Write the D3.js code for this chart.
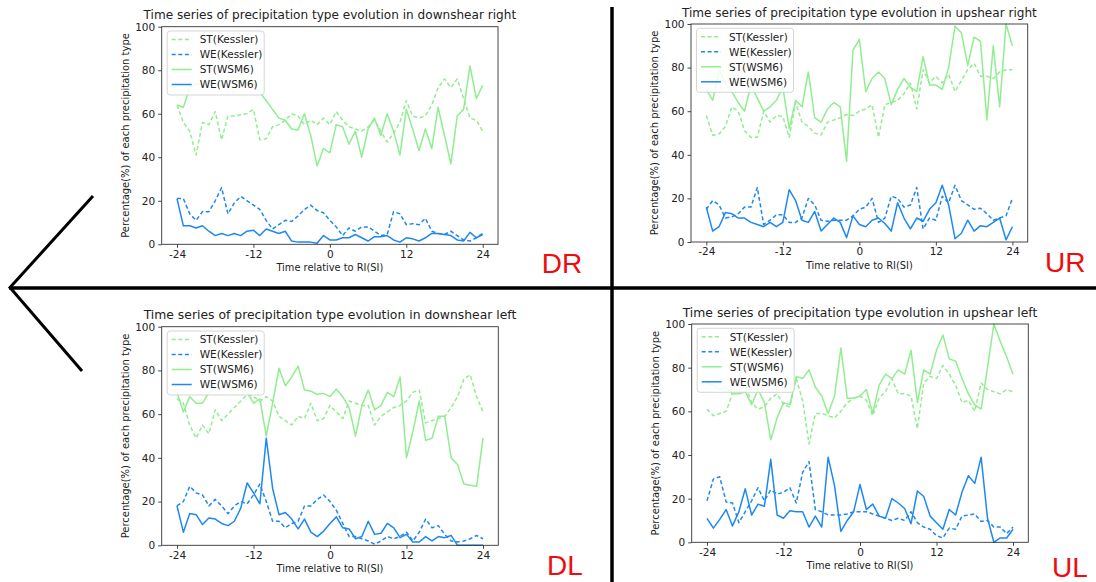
<!DOCTYPE html>
<html>
<head>
<meta charset="utf-8">
<script src="https://cdn.jsdelivr.net/npm/d3@7"></script>
<style>
  body { margin: 0; background: #fff; }
  svg { display: block; font-family: "DejaVu Sans", sans-serif; }
</style>
</head>
<body>
<svg id="fig" width="1096" height="582"></svg>
<script>
// time axis: hours relative to RI onset
const hours = d3.range(-24, 25);
const xTicks = [-24, -12, 0, 12, 24];
const yTicks = [0, 20, 40, 60, 80, 100];
const seriesNames = ['ST(Kessler)', 'WE(Kessler)', 'ST(WSM6)', 'WE(WSM6)'];

// downshear right
const drStKessler = [64,56,52,41,56,55,61,48,59,59,59.5,60,62,48,48.5,54,55,57,60,59,55,57,55,58,55,61,57,54,53,52,54,57,52,47,51,56,66,59,58,59,64,72,76,72,76,67,58,57,52];
const drWeKessler = [21,21,14,11,15,15,20,26,14,19,22,20,18,16,11,7,9,11,10.5,13,16,18,15.5,14.5,11,8,4,7.5,6,8,8,6,4,4.5,15,14,9,9.5,9,12,6,5,4.5,6,4,2,1.5,3,5];
const drStWsm6 = [64,63,72,74,73,75,74,73,76,74,75,76,74,70,66,62,58,57,53,52.5,60,50,36,44,42,55,54,46,52,40,53,58,50,60,52,41,62,53,43,53,44,63,50,37,59,62,82,67,73];
const drWeWsm6 = [21,8.5,8.5,7.5,8.5,6,4,5,4,5,4,6,6.5,4,7,6,5,6,1.5,1,1,1,0.5,4,2,2,3,3,4.5,3,1.5,3.5,3.5,4,2,1,3,2.5,1.5,3,5,5,4.5,4,2,1.5,5.5,3,4.5];

// upshear right
const urStKessler = [58,49,49.5,53,62,60,51,48,48,60,55,58,57.5,48,64,55,53,50,49,55,56,57,58.5,58,60,61,63,48,63,64,65,68,73,61,79,73,76,73,77,69,74,79,82,76,76,75,78,79,79];
const urWeKessler = [15,19,17,11,11.5,13,16,16,25,8,10,12.5,12.5,9,9,11,20,17,10,9.5,10,10,10,12,15,16,20,9,11,21,20,16,17,25,6,11,10,21,18,26,19,17,15,15.5,13,10,11,12,20];
const urStWsm6 = [70,65,79,73,69,64,60,72,66,60,62,65,71,52,65,62,78,57,55,61,64,62,37,88,93,69,75,78,75,63,70,75,71,69,85,72,72,70,80,99,96,81,94,92,56,90,62,100,90];
const urWeWsm6 = [16,5,7,13.5,13,11,11,9,8,7,9,7,9,24,19,10,9,14,5,8,11,9,2,12,8,7,10,11,8.5,5,18,11,6,11,9.5,15,18,26,17,1.5,4,10,5,7.5,7,9,11,1,7];

// downshear left
const dlStKessler = [67,65,55,49,55,51,62,57,60,63,66,69,68,66,68,66,59,57,55,59,58,65,57,58,64,61,58,66,65,64,64,55,59,61,63,64,66,70,71,56,57,58,59,63,68,76,78,68,61];
const dlWeKessler = [18,20,27,24,23,18,21,18,14.5,18,20,19,23,28,20,11,11,8,10,11,18,18,21,23,20,16,10,4,4,3,2,0.5,2,4,3,4,6,2,6,12,8,9,5,2,1.5,2,3,4.5,3];
const dlStWsm6 = [70,61,68,65,65,70,72,73,72,71,72,70,65,67,50,65,81,73,77,82,71,70.5,69,69.5,68,71.5,68,63,50,64,71,62,64,70,68,77,40,52,66,48,49,59,59,40,37,28,27.5,27,49];
const dlWeWsm6 = [18,6,14.5,14,9.5,12.5,12,10,9,11,17,28.5,24,19,49,26,14,15,12,7.5,12,6,4,6.5,10,13,8,7.5,3,4,11,5,5.5,10,8,3.5,5,1.5,1.5,4,2,4,3.5,4.5,0,0,0,0,0];

// upshear left
const ulStKessler = [61,58,59,60,68,69,72,64,61,62,66,68,63,62,75,65,45,59,59,58,57,60,64,66,67,65,58,66,69,75,68,68,67,52,73,76,75,81,77,72,64,65,60,73,70,69,68,70,69];
const ulWeKessler = [19,29,30,18.5,18,9,14,19,25,19,24,22,23,25,18,32,37,15,14,12.5,12.5,12.5,13,14,14,14,13,12,11,10,11,10,14,9,7,6,3,2,6.5,6,12,12.5,13,9.5,10,7,7,4,7];
const ulStWsm6 = [73,72,70,71,68,68,69,63,70,64,47,57,64,63,76,75,79,71,67,59,67,89,66,66,67,70,59,72,77,75,79,77,88,64,79,77,88,95,84,83,75,68,63,61,80,100,92,85,77];
const ulWeWsm6 = [11,6.5,10.5,15,7.5,14,24.5,12.5,17.5,16.5,38,12.5,11,14.5,14,14,7,12,7,39,26,5,10,14,26.5,15,17.5,12,11,20,18,15.5,8.5,23.5,21,12,9,6,15,12.5,23,30.5,27,39,11,0,2,2,6];

const colors = ['#90ee90', '#1e88f0', '#90ee90', '#1e88f0'];
const dashes = ['4,2.6', '4,2.6', null, null];

const panels = [
  {title: 'Time series of precipitation type evolution in downshear right', tag: 'DR',
   box: {l: 161.7, r: 498, t: 26.7, b: 244.3}, tagPos: [541.7, 273],
   data: [drStKessler, drWeKessler, drStWsm6, drWeWsm6]},
  {title: 'Time series of precipitation type evolution in upshear right', tag: 'UR',
   box: {l: 691, r: 1027.7, t: 24, b: 242}, tagPos: [1045, 272],
   data: [urStKessler, urWeKessler, urStWsm6, urWeWsm6]},
  {title: 'Time series of precipitation type evolution in downshear left', tag: 'DL',
   box: {l: 161.7, r: 498.3, t: 326.7, b: 545.3}, tagPos: [547, 575],
   data: [dlStKessler, dlWeKessler, dlStWsm6, dlWeWsm6]},
  {title: 'Time series of precipitation type evolution in upshear left', tag: 'UL',
   box: {l: 691.7, r: 1028.3, t: 324, b: 542.3}, tagPos: [1052, 576.5],
   data: [ulStKessler, ulWeKessler, ulStWsm6, ulWeWsm6]}
];

const svg = d3.select('#fig');

// fit a text node to a target width by adjusting font size
function fitWidth(sel, target) {
  const node = sel.node();
  const w = node.getComputedTextLength();
  const fs = parseFloat(sel.attr('font-size'));
  if (w > 0) sel.attr('font-size', (fs * target / w).toFixed(2));
}

function drawPanel(p) {
  const {l, r, t, b} = p.box;
  const x = d3.scaleLinear().domain([-26.4, 26.4]).range([l, r]);
  const y = d3.scaleLinear().domain([0, 100]).range([b, t]);
  const g = svg.append('g');

  const line = d3.line().x((d, i) => x(hours[i])).y(d => y(d));

  // series, drawn in legend order
  p.data.forEach((s, k) => {
    g.append('path')
      .datum(s)
      .attr('d', line)
      .attr('fill', 'none')
      .attr('stroke', colors[k])
      .attr('stroke-width', 1.5)
      .attr('stroke-dasharray', dashes[k])
      .attr('stroke-linejoin', 'round');
  });

  // axes
  const xAxis = d3.axisBottom(x).tickValues(xTicks).tickSize(3.5).tickPadding(2.5).tickSizeOuter(0);
  const yAxis = d3.axisLeft(y).tickValues(yTicks).tickSize(3.5).tickPadding(3).tickSizeOuter(0);
  const gx = g.append('g').attr('transform', `translate(0,${b})`).call(xAxis);
  const gy = g.append('g').attr('transform', `translate(${l},0)`).call(yAxis);
  [gx, gy].forEach(a => {
    a.select('.domain').remove();
    a.selectAll('line').attr('stroke', '#333').attr('stroke-width', 0.9);
    a.selectAll('text').attr('fill', '#222').attr('font-size', 10.5)
      .attr('font-family', '"DejaVu Sans", sans-serif');
  });
  gx.selectAll('text').text(d => d < 0 ? '-' + Math.abs(d) : d);

  // frame
  g.append('rect')
    .attr('x', l).attr('y', t).attr('width', r - l).attr('height', b - t)
    .attr('fill', 'none').attr('stroke', '#333').attr('stroke-width', 0.9);

  // title
  const title = g.append('text')
    .attr('x', (l + r) / 2).attr('y', t - 7.5)
    .attr('text-anchor', 'middle').attr('font-size', 12).attr('fill', '#222')
    .text(p.title);
  fitWidth(title, p.tag[0] === 'D' ? 373 : 355);

  // axis labels
  const xl = g.append('text')
    .attr('x', (l + r) / 2).attr('y', b + 27)
    .attr('text-anchor', 'middle').attr('font-size', 10).attr('fill', '#222')
    .text('Time relative to RI(SI)');
  fitWidth(xl, 107);
  const yl = g.append('text')
    .attr('transform', `translate(${l - 33},${(t + b) / 2}) rotate(-90)`)
    .attr('text-anchor', 'middle').attr('font-size', 10).attr('fill', '#222')
    .text('Percentage(%) of each precipitation type');
  fitWidth(yl, 205);

  // legend
  const lg = g.append('g').attr('transform', `translate(${l + 5.5},${t + 4.3})`);
  lg.append('rect')
    .attr('width', 97).attr('height', 64).attr('rx', 3)
    .attr('fill', '#fff').attr('fill-opacity', 0.85)
    .attr('stroke', '#d0d0d0').attr('stroke-width', 0.9);
  seriesNames.forEach((name, k) => {
    const yy = 8.5 + k * 15;
    lg.append('line')
      .attr('x1', 4.5).attr('x2', 24.5).attr('y1', yy).attr('y2', yy)
      .attr('stroke', colors[k]).attr('stroke-width', 1.5)
      .attr('stroke-dasharray', dashes[k]);
    lg.append('text')
      .attr('x', 32.5).attr('y', yy + 3.8)
      .attr('font-size', 10.5).attr('fill', '#222')
      .text(name);
  });

  // quadrant tag
  svg.append('text')
    .attr('x', p.tagPos[0]).attr('y', p.tagPos[1])
    .attr('font-family', '"Liberation Sans", Arial, sans-serif')
    .attr('font-size', 28).attr('fill', '#f00c0c')
    .text(p.tag);
}

panels.forEach(drawPanel);

// quadrant dividers and shear arrow
const deco = svg.append('g').attr('stroke', '#000').attr('fill', 'none').attr('stroke-linecap', 'butt');
deco.append('line').attr('x1', 612).attr('x2', 612).attr('y1', 7).attr('y2', 582).attr('stroke-width', 3.5);
deco.append('line').attr('x1', 9).attr('x2', 1096).attr('y1', 288).attr('y2', 288).attr('stroke-width', 3.5);
deco.append('path').attr('d', 'M93,196 L10,287.5 L82,371').attr('stroke-width', 3).attr('stroke-linejoin', 'miter');
</script>
</body>
</html>
